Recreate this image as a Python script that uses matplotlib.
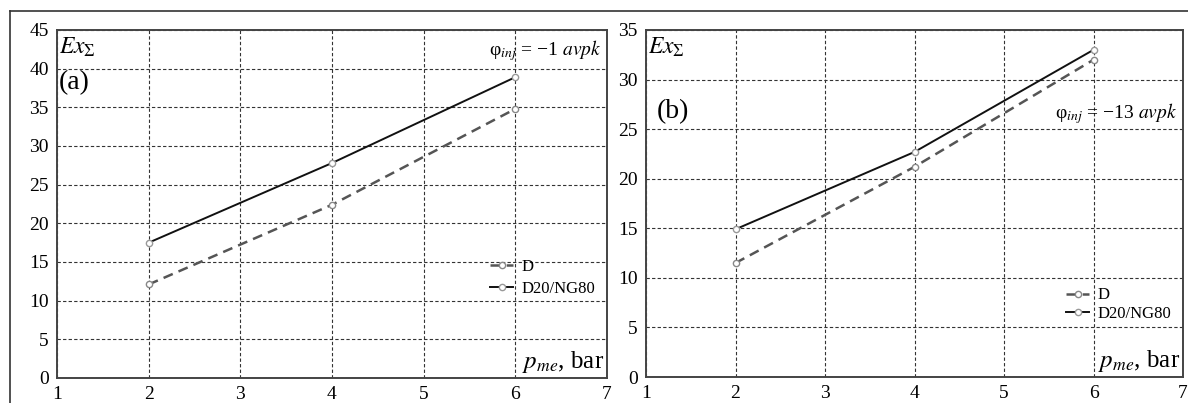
import matplotlib
matplotlib.use("Agg")
import matplotlib.pyplot as plt
from matplotlib.lines import Line2D

plt.rcParams['font.family'] = ['Liberation Serif', 'DejaVu Serif']
plt.rcParams['mathtext.fontset'] = 'stix'

# data
pme = [2, 4, 6]
ex_d_a = [12.1, 22.4, 34.8]
ex_ng_a = [17.5, 27.8, 38.9]
ex_d_b = [11.5, 21.2, 32.0]
ex_ng_b = [14.9, 22.7, 33.0]

W, H = 1188, 403
fig = plt.figure(figsize=(W / 100, H / 100), dpi=100)

def px_axes(x0, y0, x1, y1):
    return fig.add_axes([x0 / W, 1 - y1 / H, (x1 - x0) / W, (y1 - y0) / H])

ax_a = px_axes(57, 30, 607, 378)
ax_b = px_axes(646, 30, 1183, 377)

def style(ax, ymax, d, ng, label, phi, phi_y, leg_anchor, lspace):
    ax.plot(pme, d, ls=(0, (4, 2.5)), color='#555555', lw=1.8,
            marker='o', ms=4.5, mfc='white', mec='#888888', mew=1, label='D')
    ax.plot(pme, ng, ls='-', color='#111111', lw=1.4,
            marker='o', ms=4.5, mfc='white', mec='#999999', mew=1, label='D20/NG80')
    ax.set_xlim(1, 7)
    ax.set_ylim(0, ymax)
    ax.set_xticks(range(1, 8))
    ax.set_yticks(range(0, ymax + 1, 5))
    ax.tick_params(length=0, labelsize=14, pad=6)
    ax.grid(True, ls=(0, (3, 2)), color='#333333', lw=0.8)
    for s in ax.spines.values():
        s.set_color('#444444')
        s.set_linewidth(1.4)
    ax.text(0.004, 0.985, r'$\mathit{Ex}_{\Sigma}$', transform=ax.transAxes,
            ha='left', va='top', fontsize=17)
    ax.text(label[1], label[2], label[0], transform=ax.transAxes,
            ha='left', va='top', fontsize=20)
    ax.text(0.99, phi_y, phi, transform=ax.transAxes,
            ha='right', va='center', fontsize=14)
    ax.text(0.995, 0.01, r'$\mathit{p}_{\mathit{me}}$, bar', transform=ax.transAxes,
            ha='right', va='bottom', fontsize=18)
    ax.legend(loc='lower right', bbox_to_anchor=leg_anchor, frameon=False,
              fontsize=12, handlelength=1.4, handletextpad=0.5, numpoints=1,
              labelspacing=lspace, borderpad=0.2)

style(ax_a, 45, ex_d_a, ex_ng_a, ('(a)', 0.004, 0.885),
      r'φ$_{\mathit{inj}}$ = −1 $\mathit{avpk}$', 0.94, (1.0, 0.2), 0.35)
style(ax_b, 35, ex_d_b, ex_ng_b, ('(b)', 0.02, 0.8),
      r'φ$_{\mathit{inj}}$ = −13 $\mathit{avpk}$', 0.76, (1.0, 0.125), 0.15)

# outer frame of the figure panel
fig.add_artist(Line2D([10 / W, 10 / W], [0, 1 - 11 / H], color='#333333', lw=1.2,
                      transform=fig.transFigure))
fig.add_artist(Line2D([10 / W, 1], [1 - 11 / H, 1 - 11 / H], color='#333333', lw=1.2,
                      transform=fig.transFigure))

fig.savefig('out.png', dpi=100)
